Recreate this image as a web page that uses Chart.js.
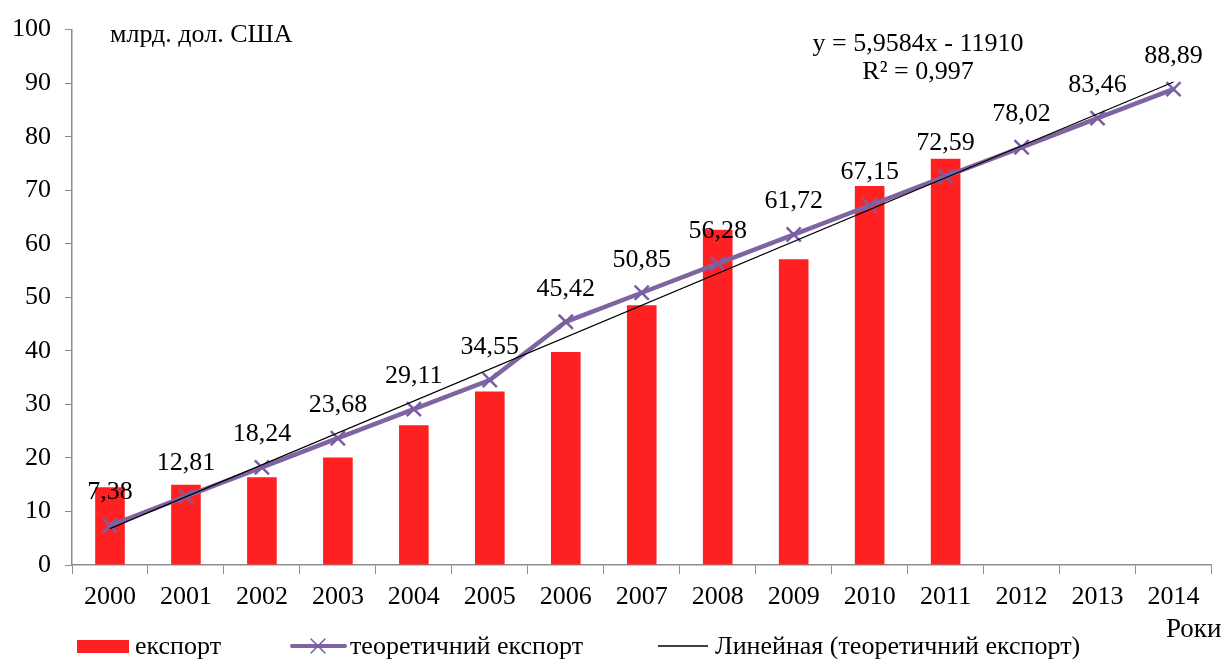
<!DOCTYPE html>
<html>
<head>
<meta charset="utf-8">
<script src="https://cdn.jsdelivr.net/npm/chart.js@4/dist/chart.umd.min.js"></script>
<style>
html,body{margin:0;padding:0;background:#fff;}
#wrap{width:1224px;height:659px;position:relative;}
</style>
</head>
<body>
<div id="wrap"><canvas id="c" width="1224" height="659"></canvas></div>
<script>
// ---- data ----
const years = ['2000','2001','2002','2003','2004','2005','2006','2007','2008','2009','2010','2011','2012','2013','2014'];
const exportValues = [14.5, 15.0, 16.4, 20.1, 26.1, 32.4, 39.8, 48.5, 62.6, 57.1, 70.8, 75.9, null, null, null];
const theoreticalExport = [7.38, 12.81, 18.24, 23.68, 29.11, 34.55, 45.42, 50.85, 56.28, 61.72, 67.15, 72.59, 78.02, 83.46, 88.89];
const trendValues = [6.8, null, null, null, null, null, null, null, null, null, null, null, null, null, 90.2];
const yTicks = [0, 10, 20, 30, 40, 50, 60, 70, 80, 90, 100];
const seriesLabels = ['експорт', 'теоретичний експорт', 'Линейная (теоретичний експорт)'];
const unitLabel = 'млрд. дол. США';
const axisLabelX = 'Роки';
const trendEquation = 'y = 5,9584x - 11910';
const trendR2 = 'R² = 0,997';

const FONT = '"Liberation Serif", "Times New Roman", serif';
const RED = '#FF2121';
const PURPLE = '#8064A2';
const PURPLE_MARK = '#7A5FA6';

const extrasPlugin = {
  id: 'extras',
  afterDatasetsDraw(chart) {
    const ctx = chart.ctx;
    ctx.save();
    const meta = chart.getDatasetMeta(1);
    ctx.fillStyle = '#000';
    ctx.font = '26px ' + FONT;
    ctx.textAlign = 'center';
    ctx.textBaseline = 'middle';
    meta.data.forEach((pt, i) => {
      const v = chart.data.datasets[1].data[i];
      if (v == null) return;
      ctx.fillText(v.toFixed(2).replace('.', ','), pt.x, pt.y - 33);
    });
    ctx.restore();
  },
  afterDraw(chart) {
    const ctx = chart.ctx;
    ctx.save();
    ctx.fillStyle = '#000';
    ctx.textBaseline = 'middle';
    ctx.font = '26px ' + FONT;
    ctx.textAlign = 'left';
    ctx.fillText(unitLabel, 110, 35);
    ctx.font = '26px ' + FONT;
    ctx.textAlign = 'center';
    ctx.fillText(trendEquation, 918, 44);
    ctx.fillText(trendR2, 918, 72);
    ctx.textAlign = 'left';
    ctx.font = '27px ' + FONT;
    ctx.fillText(axisLabelX, 1166, 630);
    // legend
    const ly = 647;
    ctx.fillStyle = RED;
    ctx.fillRect(77, 640, 52, 13);
    ctx.fillStyle = '#000';
    ctx.font = '26px ' + FONT;
    ctx.fillText(chart.data.datasets[0].label, 135, ly);
    ctx.strokeStyle = PURPLE;
    ctx.lineWidth = 4;
    ctx.lineCap = 'round';
    ctx.beginPath(); ctx.moveTo(292, ly - 1); ctx.lineTo(345, ly - 1); ctx.stroke();
    ctx.strokeStyle = PURPLE_MARK;
    ctx.lineWidth = 1.5;
    ctx.beginPath();
    ctx.moveTo(311, ly - 8); ctx.lineTo(325, ly + 6);
    ctx.moveTo(325, ly - 8); ctx.lineTo(311, ly + 6);
    ctx.stroke();
    ctx.fillText(chart.data.datasets[1].label, 350, ly);
    ctx.strokeStyle = '#000';
    ctx.lineWidth = 1.5;
    ctx.lineCap = 'butt';
    ctx.beginPath(); ctx.moveTo(658, ly - 1); ctx.lineTo(708, ly - 1); ctx.stroke();
    ctx.fillText(chart.data.datasets[2].label, 715, ly);
    ctx.restore();
  }
};

new Chart(document.getElementById('c'), {
  type: 'bar',
  data: {
    labels: years,
    datasets: [
      {
        type: 'bar',
        label: seriesLabels[0],
        data: exportValues,
        backgroundColor: RED,
        borderWidth: 0,
        categoryPercentage: 1,
        barPercentage: 0.39,
        order: 3
      },
      {
        type: 'line',
        label: seriesLabels[1],
        data: theoreticalExport,
        borderColor: PURPLE,
        borderWidth: 4.5,
        pointStyle: 'crossRot',
        pointRadius: 10,
        pointBorderWidth: 2.5,
        pointBorderColor: PURPLE_MARK,
        pointBackgroundColor: PURPLE_MARK,
        tension: 0,
        order: 2
      },
      {
        type: 'line',
        label: seriesLabels[2],
        data: trendValues,
        borderColor: '#000',
        borderWidth: 1.2,
        pointRadius: 0,
        spanGaps: true,
        tension: 0,
        order: 1
      }
    ]
  },
  options: {
    responsive: false,
    animation: false,
    devicePixelRatio: 1,
    layout: { padding: { left: 0, right: 0, top: 24, bottom: 0 } },
    plugins: {
      legend: { display: false },
      tooltip: { enabled: false },
      title: { display: false }
    },
    scales: {
      x: {
        offset: true,
        grid: { display: true, offset: true, drawOnChartArea: false, tickLength: 9, color: '#8c8c8c', tickColor: '#8c8c8c' },
        border: { display: true, color: '#8c8c8c', width: 1.5 },
        ticks: { color: '#000', font: { family: FONT, size: 26 }, padding: 8, maxRotation: 0, autoSkip: false },
        afterFit(scale) { scale.height = 94; }
      },
      y: {
        min: 0,
        max: 100,
        afterBuildTicks(scale) { scale.ticks = yTicks.map(v => ({ value: v })); },
        grid: { display: true, drawOnChartArea: false, tickLength: 7, color: '#8c8c8c', tickColor: '#8c8c8c' },
        border: { display: true, color: '#8c8c8c', width: 1.5 },
        ticks: { color: '#000', font: { family: FONT, size: 26 }, padding: 14 },
        afterFit(scale) { scale.width = 72; }
      }
    }
  },
  plugins: [extrasPlugin]
});
</script>
</body>
</html>
